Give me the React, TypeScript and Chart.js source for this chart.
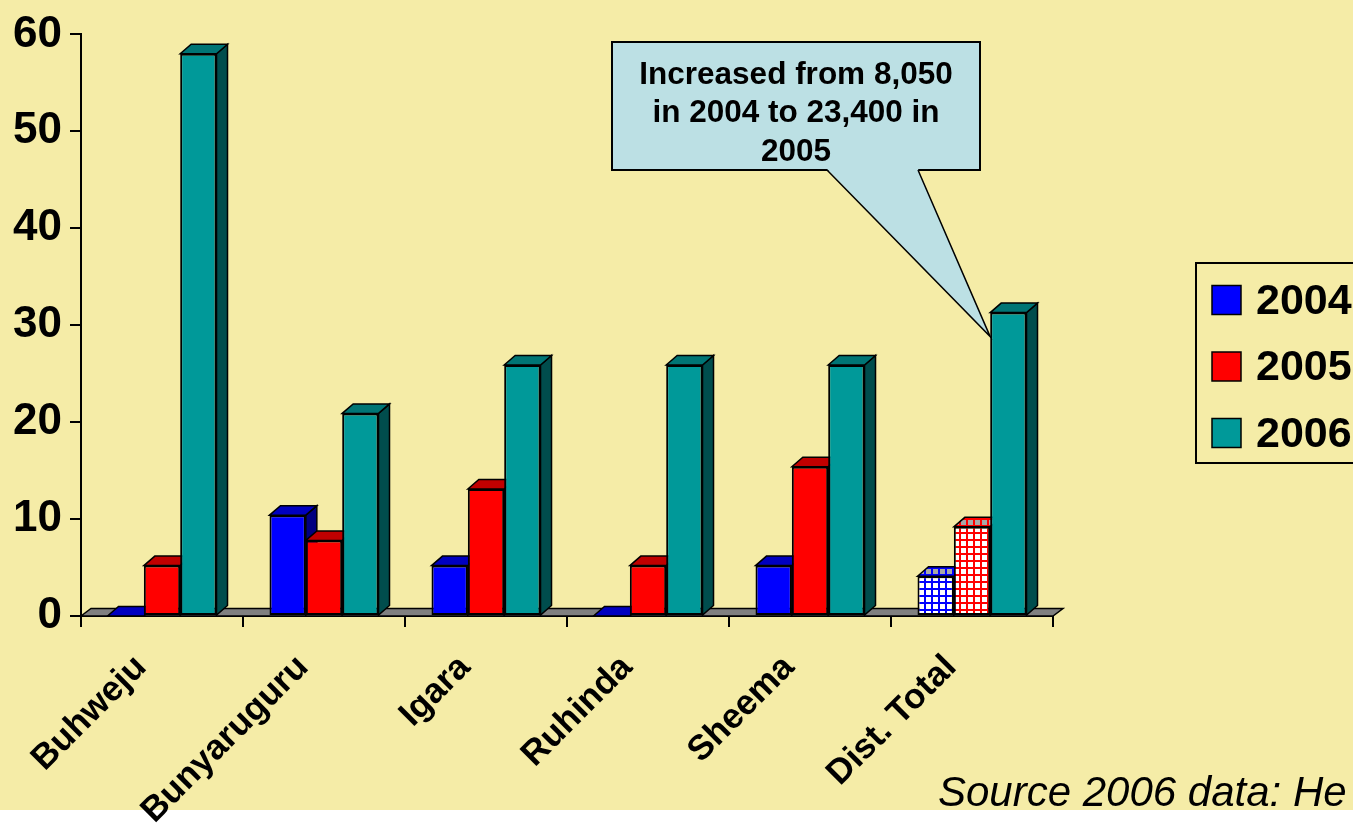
import React, { useEffect, useRef } from "react";
import { Chart, registerables } from "chart.js";

Chart.register(...registerables);

// ---- data ----
const categories = ["Buhweju", "Bunyaruguru", "Igara", "Ruhinda", "Sheema", "Dist. Total"];
const seriesLabels = ["2004", "2005", "2006"];
const values2004 = [0, 10.4, 5.2, 0, 5.2, 4.1];
const values2005 = [5.2, 7.8, 13.1, 5.2, 15.4, 9.2];
const values2006 = [58, 20.9, 25.9, 25.9, 25.9, 31.3];
const yTicks = [0, 10, 20, 30, 40, 50, 60];
const calloutLines = ["Increased from 8,050", "in 2004 to 23,400 in", "2005"];
const sourceNote = "Source 2006 data: He";
const patternedCategory = "Dist. Total";

// ---- style ----
const FONT = "'Liberation Sans', Arial, Helvetica, sans-serif";
const BG = "#F5ECA7";
const FRONT = ["#0000FF", "#FF0000", "#009999"];
const TOP = ["#0000C0", "#C00000", "#007575"];
const SIDE = ["#000080", "#800000", "#004D4D"];
const DX = 11;
const DY = -9.5;
const FDX = 10;
const FDY = -7.5;

function poly(ctx: CanvasRenderingContext2D, pts: number[][], fill: any, lw = 1.5) {
  ctx.beginPath();
  ctx.moveTo(pts[0][0], pts[0][1]);
  for (let i = 1; i < pts.length; i++) ctx.lineTo(pts[i][0], pts[i][1]);
  ctx.closePath();
  ctx.fillStyle = fill;
  ctx.fill();
  ctx.lineWidth = lw;
  ctx.strokeStyle = "#000";
  ctx.lineJoin = "miter";
  ctx.stroke();
}

export default function App() {
  const canvasRef = useRef<HTMLCanvasElement | null>(null);

  useEffect(() => {
    const canvas = canvasRef.current!;
    const c2d = canvas.getContext("2d")!;

    const makeGrid = (bg: string, line: string) => {
      const c = document.createElement("canvas");
      c.width = 7;
      c.height = 7;
      const g = c.getContext("2d")!;
      g.fillStyle = bg;
      g.fillRect(0, 0, 7, 7);
      g.fillStyle = line;
      g.fillRect(0, 0, 7, 2);
      g.fillRect(0, 0, 2, 7);
      return c2d.createPattern(c, "repeat")!;
    };
    const frontPatterns = [makeGrid("#FFFFFF", "#0000FF"), makeGrid("#FFFFFF", "#FF0000"), null];
    const topPatterns = [makeGrid("#A8A8A8", "#0000FF"), makeGrid("#A8A8A8", "#FF0000"), null];
    const pIdx = categories.indexOf(patternedCategory);

    const frontFill = (si: number) => (ctx: any) =>
      ctx.dataIndex === pIdx && frontPatterns[si] ? frontPatterns[si] : FRONT[si];

    const bar3d = {
      id: "bar3d",
      beforeDraw(chart: any) {
        const ctx = chart.ctx;
        ctx.save();
        ctx.fillStyle = BG;
        ctx.fillRect(0, 0, chart.width, 810);
        ctx.restore();
      },
      beforeDatasetsDraw(chart: any) {
        const ctx = chart.ctx;
        const { left, right } = chart.chartArea;
        const b = chart.scales.y.getPixelForValue(0);
        ctx.save();
        poly(ctx, [[left, b], [left + FDX, b + FDY], [right + FDX, b + FDY], [right, b]], "#808080", 1.5);
        const n = chart.data.datasets.length;
        // all side faces first
        for (let si = 0; si < n; si++) {
          chart.getDatasetMeta(si).data.forEach((el: any) => {
            const { x, y, base, width } = el.getProps(["x", "y", "base", "width"], true);
            const r = x + width / 2;
            if (base - y > 0.5) {
              poly(ctx, [[r, y], [r + DX, y + DY], [r + DX, base + DY], [r, base]], SIDE[si]);
            }
          });
        }
        // then all top faces
        for (let si = 0; si < n; si++) {
          chart.getDatasetMeta(si).data.forEach((el: any, j: number) => {
            const { x, y, width } = el.getProps(["x", "y", "width"], true);
            const l = x - width / 2;
            const r = x + width / 2;
            const tf = j === pIdx && topPatterns[si] ? topPatterns[si] : TOP[si];
            poly(ctx, [[l, y], [l + DX, y + DY], [r + DX, y + DY], [r, y]], tf);
          });
        }
        ctx.restore();
      },
      afterDraw(chart: any) {
        const ctx = chart.ctx;
        ctx.save();
        // callout
        const el = chart.getDatasetMeta(2).data[pIdx];
        const p = el.getProps(["x", "y", "width"], true);
        const tipX = p.x - p.width / 2;
        const tipY = p.y + 24;
        const bx0 = 612, by0 = 42, bx1 = 980, by1 = 170;
        ctx.fillStyle = "#BCE0E4";
        ctx.strokeStyle = "#000";
        ctx.lineWidth = 2;
        ctx.fillRect(bx0, by0, bx1 - bx0, by1 - by0);
        ctx.strokeRect(bx0, by0, bx1 - bx0, by1 - by0);
        ctx.beginPath();
        ctx.moveTo(827, by1 - 1);
        ctx.lineTo(tipX, tipY);
        ctx.lineTo(918, by1 - 1);
        ctx.closePath();
        ctx.fill();
        ctx.beginPath();
        ctx.moveTo(827, by1);
        ctx.lineTo(tipX, tipY);
        ctx.lineTo(918, by1);
        ctx.lineWidth = 1.5;
        ctx.stroke();
        ctx.fillStyle = "#000";
        ctx.font = `bold 31.5px ${FONT}`;
        ctx.textAlign = "center";
        ctx.textBaseline = "middle";
        const cx = (bx0 + bx1) / 2;
        calloutLines.forEach((t, i) => ctx.fillText(t, cx, 75 + i * 38.5));

        // legend
        ctx.lineWidth = 2;
        ctx.strokeStyle = "#000";
        ctx.strokeRect(1196, 263, 240, 200);
        ctx.font = `bold 43px ${FONT}`;
        ctx.textAlign = "left";
        ctx.textBaseline = "middle";
        chart.data.datasets.forEach((ds: any, i: number) => {
          const cy = 300 + i * 66.5;
          ctx.fillStyle = FRONT[i];
          ctx.fillRect(1212, cy - 14.5, 29, 29);
          ctx.lineWidth = 1.5;
          ctx.strokeRect(1212, cy - 14.5, 29, 29);
          ctx.fillStyle = "#000";
          ctx.fillText(ds.label, 1256, cy + 2);
        });

        // source note
        ctx.font = `italic 42px ${FONT}`;
        ctx.textBaseline = "alphabetic";
        ctx.fillText(sourceNote, 938, 806);
        ctx.restore();
      },
    };

    const chart = new Chart(canvas, {
      type: "bar",
      data: {
        labels: categories,
        datasets: [values2004, values2005, values2006].map((vals, si) => ({
          label: seriesLabels[si],
          data: vals,
          backgroundColor: frontFill(si),
          borderColor: "#000",
          borderWidth: 2,
          borderSkipped: false,
          categoryPercentage: 0.673,
          barPercentage: 1,
        })),
      },
      options: {
        responsive: false,
        animation: false,
        devicePixelRatio: 1,
        layout: { padding: { top: 33, right: 300, bottom: 0, left: 0 } },
        plugins: {
          legend: { display: false },
          tooltip: { enabled: false },
          title: { display: false },
        },
        scales: {
          x: {
            grid: {
              display: true,
              drawOnChartArea: false,
              drawTicks: true,
              tickLength: 11,
              color: "#000",
              lineWidth: 2,
              offset: true,
            },
            border: { display: true, color: "#000", width: 2 },
            ticks: {
              color: "#000",
              font: { family: FONT, size: 35, weight: "bold" },
              minRotation: 45,
              maxRotation: 45,
              autoSkip: false,
              padding: 20,
              labelOffset: -21,
            },
            afterFit: (s: any) => {
              s.height = 211;
            },
          },
          y: {
            min: 0,
            max: 60,
            afterBuildTicks: (s: any) => {
              s.ticks = yTicks.map((v) => ({ value: v }));
            },
            grid: {
              display: true,
              drawOnChartArea: false,
              drawTicks: true,
              tickLength: 11,
              color: "#000",
              lineWidth: 2,
            },
            border: { display: true, color: "#000", width: 2 },
            ticks: {
              color: "#000",
              font: { family: FONT, size: 44, weight: "bold" },
              padding: 8,
            },
            afterFit: (s: any) => {
              s.width = 81;
            },
          },
        },
      },
      plugins: [bar3d],
    } as any);

    return () => chart.destroy();
  }, []);

  return (
    <div style={{ position: "absolute", left: 0, top: 0, width: 1353, height: 827 }}>
      <canvas
        ref={canvasRef}
        width={1353}
        height={827}
        style={{ display: "block", width: 1353, height: 827 }}
      />
    </div>
  );
}
